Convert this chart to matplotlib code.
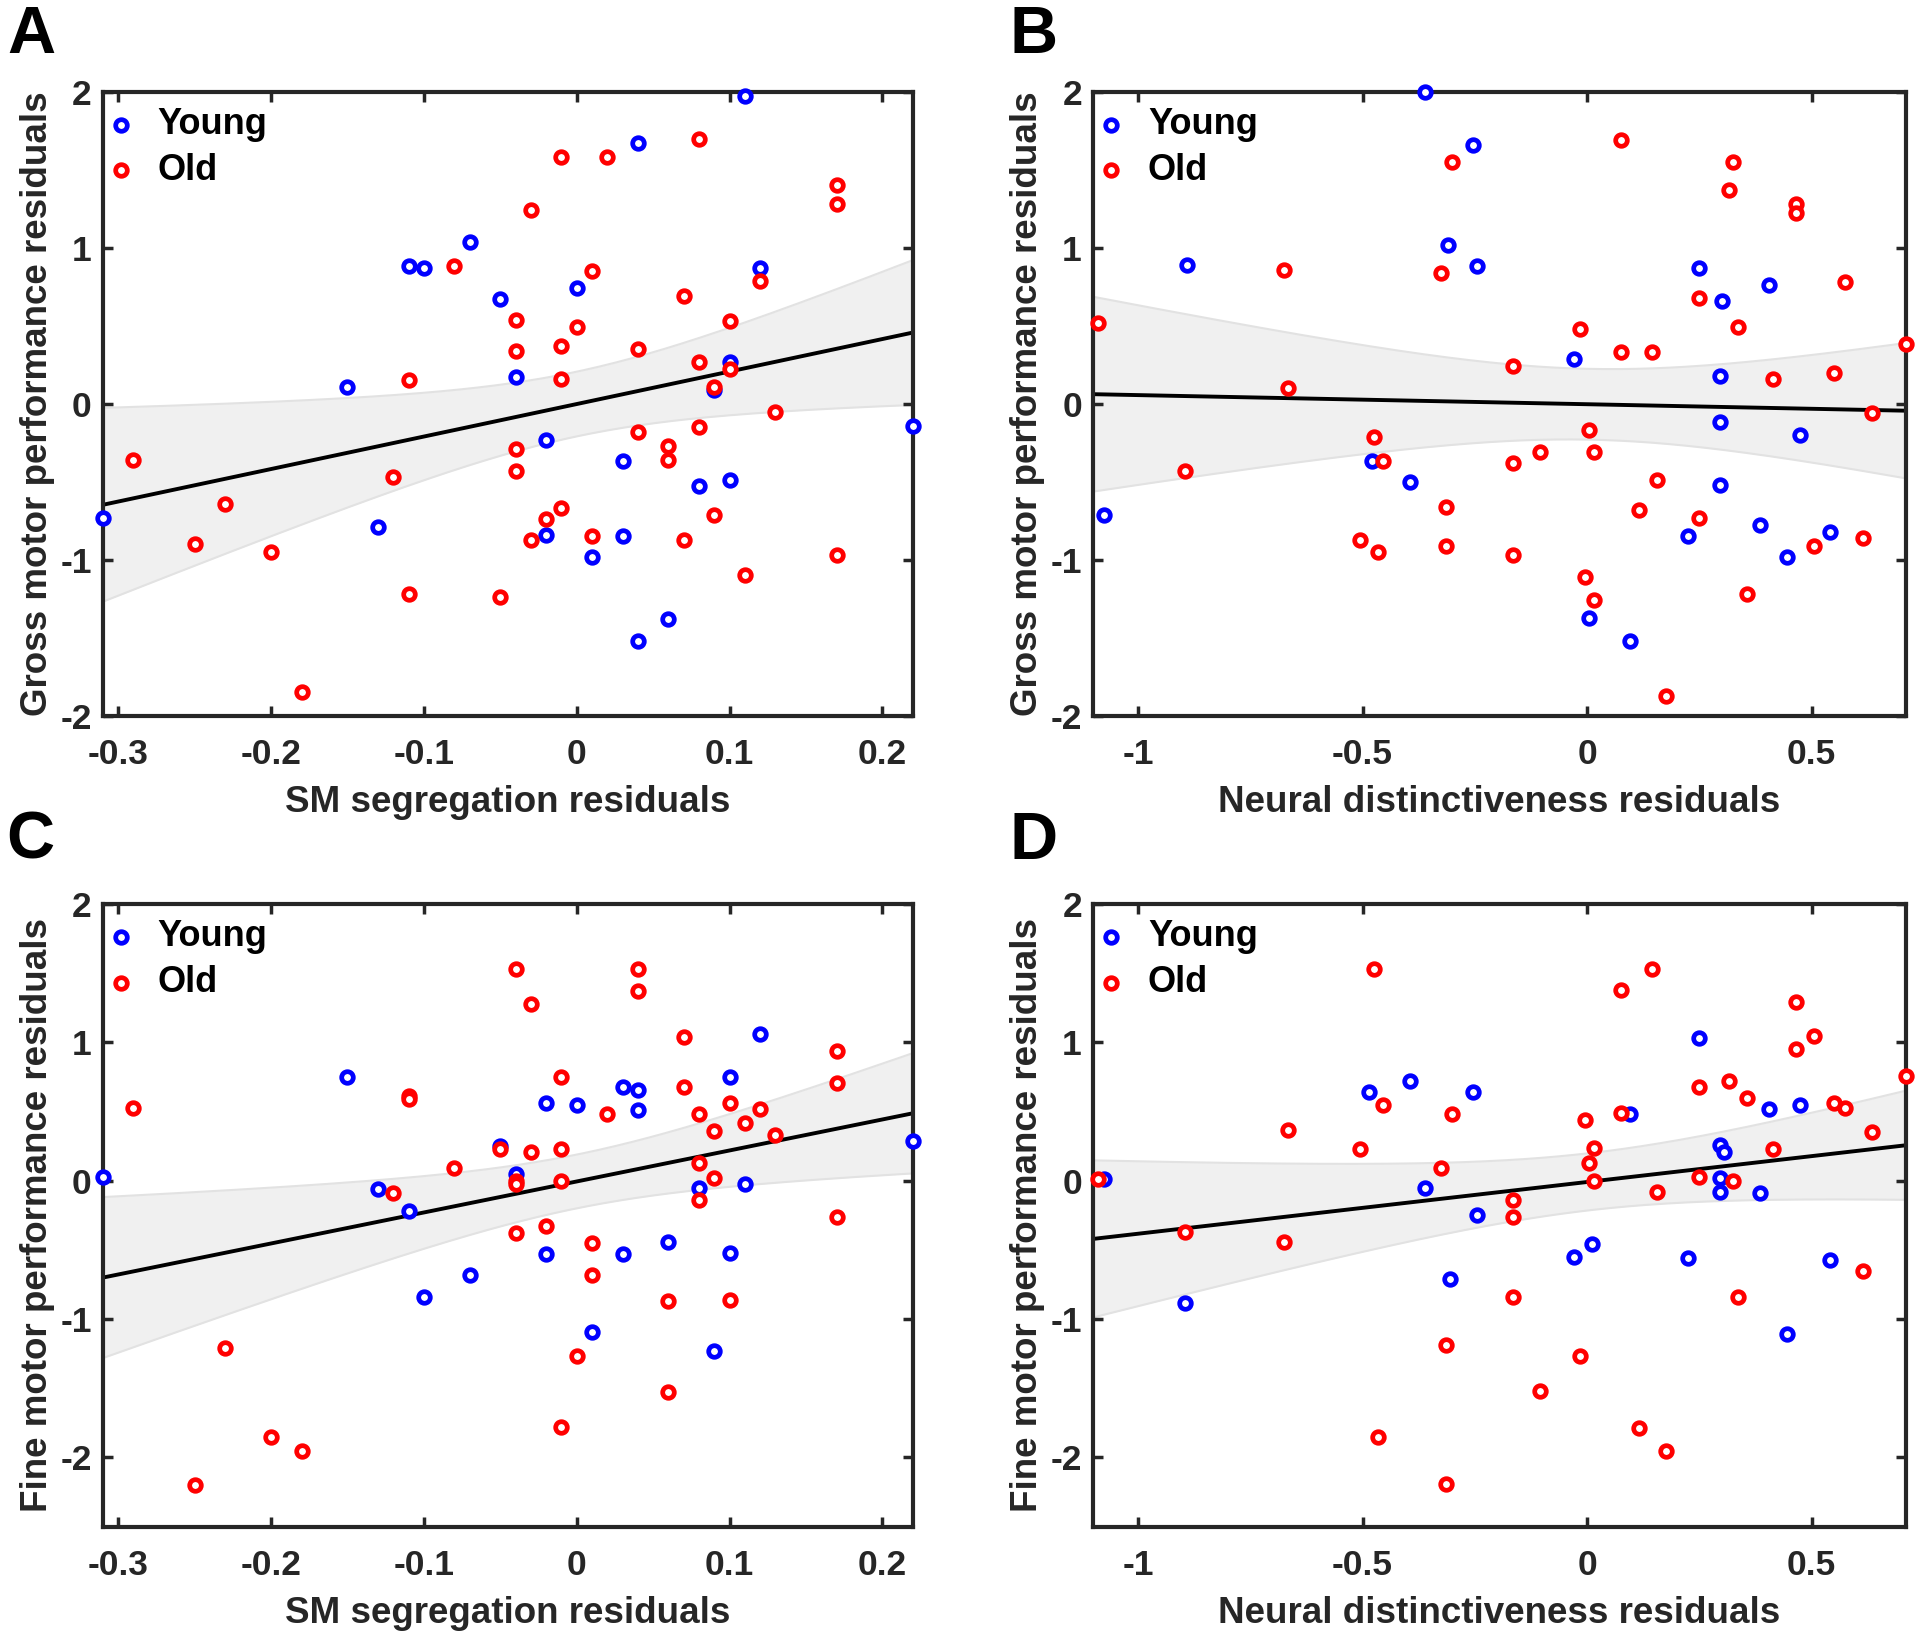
import numpy as np
import matplotlib.pyplot as plt

plt.rcParams['font.family'] = ['Liberation Sans', 'DejaVu Sans']
plt.rcParams['font.weight'] = 'bold'
plt.rcParams['axes.unicode_minus'] = False

# ---- panel A: SM segregation vs gross motor
a_young_x = [0.11, 0.04, -0.07, -0.11, -0.10, 0.12, 0.0, -0.05, -0.04, -0.15, 0.10, 0.09,
             0.22, -0.02, 0.03, 0.10, 0.08, -0.31, -0.13, -0.02, 0.03, 0.01, 0.06, 0.04]
a_young_y = [1.97, 1.67, 1.04, 0.88, 0.87, 0.87, 0.74, 0.67, 0.17, 0.11, 0.27, 0.09,
             -0.14, -0.23, -0.37, -0.49, -0.53, -0.73, -0.79, -0.84, -0.85, -0.98, -1.38, -1.52]
a_old_x = [0.08, -0.01, 0.02, 0.17, 0.17, -0.03, -0.08, 0.01, 0.12, 0.07, -0.04, 0.10, 0.0,
           -0.04, -0.01, 0.04, 0.08, -0.11, -0.01, 0.10, 0.09, 0.13, 0.08, 0.04, 0.06, 0.06,
           -0.04, -0.29, -0.12, -0.04, -0.23, -0.01, -0.02, 0.09, -0.25, -0.20, -0.03, 0.01,
           0.07, 0.17, 0.11, -0.11, -0.05, -0.18]
a_old_y = [1.70, 1.58, 1.58, 1.40, 1.28, 1.24, 0.88, 0.85, 0.79, 0.69, 0.54, 0.53, 0.49,
           0.34, 0.37, 0.35, 0.27, 0.15, 0.16, 0.22, 0.11, -0.05, -0.15, -0.18, -0.27, -0.36,
           -0.29, -0.36, -0.47, -0.43, -0.64, -0.67, -0.74, -0.71, -0.90, -0.95, -0.87, -0.85,
           -0.87, -0.97, -1.10, -1.22, -1.24, -1.85]

# ---- panel B: neural distinctiveness vs gross motor
b_young_x = [-0.36, -0.255, -0.31, -0.245, -0.89, 0.25, 0.405, 0.30, -0.03, 0.295, 0.295,
             0.475, -0.48, -0.395, 0.295, -1.075, 0.385, 0.54, 0.225, 0.445, 0.005, 0.095]
b_young_y = [2.0, 1.66, 1.02, 0.88, 0.89, 0.87, 0.76, 0.66, 0.29, 0.18, -0.12,
             -0.20, -0.37, -0.50, -0.52, -0.71, -0.78, -0.82, -0.85, -0.98, -1.37, -1.52]
b_old_x = [0.075, -0.30, 0.325, 0.315, 0.465, 0.465, -0.675, -0.325, 0.575, 0.25, -1.09,
           -0.015, 0.335, 0.075, 0.145, 0.71, -0.165, 0.55, 0.415, -0.665, 0.635, 0.005,
           -0.475, -0.105, 0.015, -0.455, -0.165, -0.895, 0.155, -0.315, 0.115, 0.25, -0.505,
           0.615, -0.315, 0.505, -0.465, -0.165, -0.005, 0.015, 0.355, 0.175]
b_old_y = [1.69, 1.55, 1.55, 1.37, 1.28, 1.22, 0.86, 0.84, 0.78, 0.68, 0.52,
           0.48, 0.49, 0.33, 0.33, 0.38, 0.24, 0.20, 0.16, 0.10, -0.06, -0.17,
           -0.21, -0.31, -0.31, -0.37, -0.38, -0.43, -0.49, -0.66, -0.68, -0.73, -0.87,
           -0.86, -0.91, -0.91, -0.95, -0.97, -1.11, -1.26, -1.22, -1.87]

# ---- panel C: SM segregation vs fine motor
c_young_x = [0.12, -0.15, 0.10, 0.03, 0.04, -0.02, 0.0, 0.04, 0.22, -0.05, -0.31, -0.04,
             -0.13, 0.11, 0.08, -0.11, 0.06, -0.02, 0.03, 0.10, -0.07, -0.10, 0.01, 0.09]
c_young_y = [1.06, 0.75, 0.75, 0.68, 0.66, 0.56, 0.55, 0.51, 0.29, 0.25, 0.03, 0.05,
             -0.06, -0.02, -0.05, -0.22, -0.44, -0.53, -0.53, -0.52, -0.68, -0.84, -1.09, -1.23]
c_old_x = [-0.04, 0.04, 0.04, -0.03, 0.07, 0.17, -0.01, 0.07, 0.17, -0.11, -0.11, -0.29,
           0.10, 0.12, 0.02, 0.08, 0.11, 0.09, 0.13, -0.05, -0.03, -0.01, -0.08, 0.08, 0.09,
           -0.04, -0.04, -0.01, -0.12, 0.08, 0.17, -0.02, -0.04, 0.01, 0.01, 0.06, 0.10,
           -0.23, 0.0, 0.06, -0.01, -0.20, -0.18, -0.25]
c_old_y = [1.53, 1.53, 1.37, 1.28, 1.04, 0.94, 0.75, 0.68, 0.71, 0.61, 0.59, 0.53,
           0.56, 0.52, 0.48, 0.48, 0.42, 0.36, 0.33, 0.23, 0.21, 0.23, 0.09, 0.13, 0.02,
           0.0, -0.02, 0.0, -0.09, -0.14, -0.26, -0.33, -0.38, -0.45, -0.68, -0.87, -0.86,
           -1.21, -1.27, -1.53, -1.78, -1.85, -1.95, -2.20]

# ---- panel D: neural distinctiveness vs fine motor
d_young_x = [0.25, -0.395, -0.485, -0.255, 0.095, 0.405, 0.475, 0.295, 0.305, -1.075, 0.295,
             0.295, -0.36, 0.385, -0.245, 0.01, -0.03, 0.225, 0.54, -0.305, -0.895, 0.445]
d_young_y = [1.03, 0.72, 0.64, 0.64, 0.48, 0.52, 0.55, 0.26, 0.21, 0.01, 0.02,
             -0.08, -0.05, -0.09, -0.25, -0.46, -0.55, -0.56, -0.57, -0.71, -0.88, -1.11]
d_old_x = [-0.475, 0.145, 0.075, 0.465, 0.505, 0.465, 0.71, 0.25, 0.315, 0.355, 0.55, 0.575,
           -0.455, -0.30, 0.075, -0.005, -0.665, 0.635, -0.505, 0.015, 0.415, 0.005, -0.325,
           -1.09, 0.25, 0.325, 0.015, 0.155, -0.165, -0.165, -0.895, -0.675, 0.615, -0.165,
           0.335, -0.315, -0.015, -0.105, -0.465, 0.115, 0.175, -0.315]
d_old_y = [1.53, 1.53, 1.38, 1.29, 1.05, 0.95, 0.76, 0.68, 0.72, 0.60, 0.56, 0.53,
           0.55, 0.48, 0.49, 0.44, 0.37, 0.35, 0.23, 0.24, 0.23, 0.13, 0.09,
           0.01, 0.03, 0.0, 0.0, -0.08, -0.14, -0.26, -0.37, -0.44, -0.65, -0.84,
           -0.84, -1.19, -1.27, -1.52, -1.85, -1.79, -1.95, -2.19]

xlab_sm = 'SM segregation residuals'
xlab_nd = 'Neural distinctiveness residuals'
ylab_gross = 'Gross motor performance residuals'
ylab_fine = 'Fine motor performance residuals'

panels = [
    ('A', a_young_x, a_young_y, a_old_x, a_old_y, xlab_sm, ylab_gross,
     (-0.31, 0.22), (-2, 2), [-0.3, -0.2, -0.1, 0, 0.1, 0.2], [-2, -1, 0, 1, 2]),
    ('B', b_young_x, b_young_y, b_old_x, b_old_y, xlab_nd, ylab_gross,
     (-1.1, 0.71), (-2, 2), [-1, -0.5, 0, 0.5], [-2, -1, 0, 1, 2]),
    ('C', c_young_x, c_young_y, c_old_x, c_old_y, xlab_sm, ylab_fine,
     (-0.31, 0.22), (-2.5, 2), [-0.3, -0.2, -0.1, 0, 0.1, 0.2], [-2, -1, 0, 1, 2]),
    ('D', d_young_x, d_young_y, d_old_x, d_old_y, xlab_nd, ylab_fine,
     (-1.1, 0.71), (-2.5, 2), [-1, -0.5, 0, 0.5], [-2, -1, 0, 1, 2]),
]

rects = [
    [0.0536, 0.563, 0.4219, 0.381],
    [0.5693, 0.563, 0.4234, 0.381],
    [0.0536, 0.068, 0.4219, 0.380],
    [0.5693, 0.068, 0.4234, 0.380],
]
letter_pos = [(0.004, 0.997), (0.526, 0.997), (0.003, 0.505), (0.526, 0.505)]

fig = plt.figure(figsize=(19.2, 16.38), dpi=100)
txt = '#262626'

for (name, yx, yy, ox, oy, xl, yl, xlim, ylim, xt, yt), r, lp in zip(panels, rects, letter_pos):
    ax = fig.add_axes(r)
    x = np.array(yx + ox)
    y = np.array(yy + oy)
    # linear fit over all subjects with 95% CI of the mean
    slope, icpt = np.polyfit(x, y, 1)
    n = len(x)
    resid = y - (icpt + slope * x)
    s = np.sqrt(np.sum(resid ** 2) / (n - 2))
    xs = np.linspace(xlim[0], xlim[1], 200)
    fit = icpt + slope * xs
    hw = 1.997 * s * np.sqrt(1.0 / n + (xs - x.mean()) ** 2 / np.sum((x - x.mean()) ** 2))
    ax.fill_between(xs, fit - hw, fit + hw, color='#f0f0f0', lw=0, zorder=1)
    ax.plot(xs, fit - hw, color='#e2e2e2', lw=1.5, zorder=1)
    ax.plot(xs, fit + hw, color='#e2e2e2', lw=1.5, zorder=1)
    ax.plot(xs, fit, color='black', lw=2.8, zorder=2)

    ax.scatter(yx, yy, s=70, facecolors='white', edgecolors='#0000ff', linewidths=3.4,
               zorder=3, clip_on=False, label='Young')
    ax.scatter(ox, oy, s=70, facecolors='white', edgecolors='#ff0000', linewidths=3.4,
               zorder=3, clip_on=False, label='Old')

    ax.set_xlim(xlim)
    ax.set_ylim(ylim)
    ax.set_xticks(xt)
    ax.set_xticklabels([('%g' % v) for v in xt])
    ax.set_yticks(yt)
    ax.tick_params(direction='in', length=7, width=2.5, labelsize=25.5, colors=txt,
                   top=True, right=True)
    ax.tick_params(axis='x', pad=16)
    ax.tick_params(axis='y', pad=8)
    for lab in ax.get_xticklabels() + ax.get_yticklabels():
        lab.set_fontweight('bold')
    for sp in ax.spines.values():
        sp.set_linewidth(3)
        sp.set_color(txt)
    ax.set_xlabel(xl, fontsize=26.5, fontweight='bold', color=txt, labelpad=10)
    ax.set_ylabel(yl, fontsize=26.5, fontweight='bold', color=txt, labelpad=4)

    leg = ax.legend(loc='upper left', bbox_to_anchor=(0.0, 0.99), frameon=False,
                    fontsize=26, handletextpad=0.77, handlelength=0.5, borderpad=0.2,
                    borderaxespad=0.05, labelspacing=0.3, markerscale=1.0)
    for t in leg.get_texts():
        t.set_fontweight('bold')

    fig.text(lp[0], lp[1], name, fontsize=48, fontweight='bold', ha='left', va='top')

fig.savefig('out.png', dpi=100)
